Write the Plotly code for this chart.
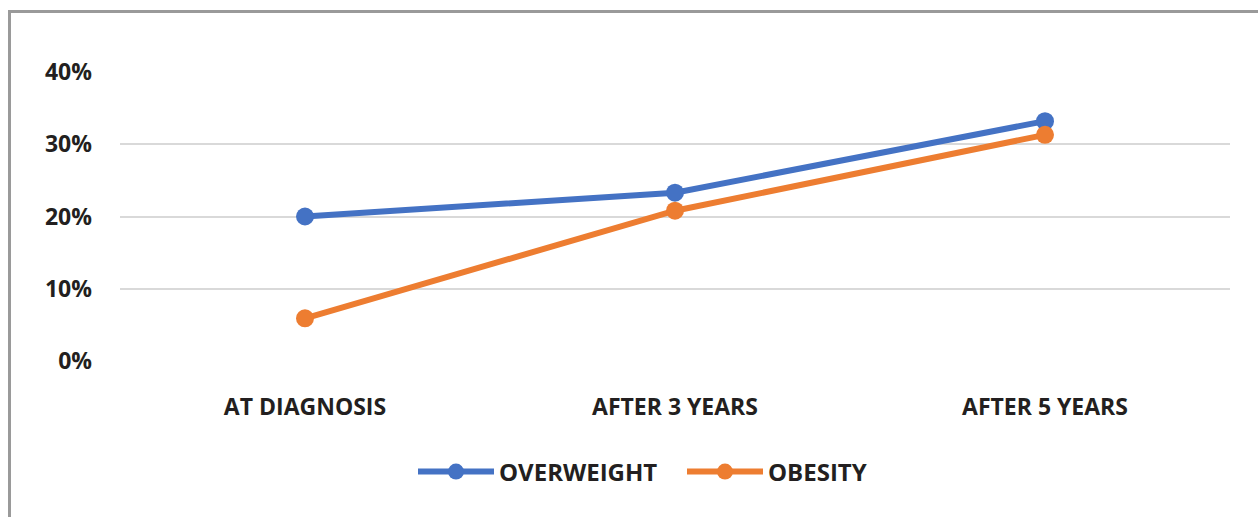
import plotly.graph_objects as go

categories = ["AT DIAGNOSIS", "AFTER 3 YEARS", "AFTER 5 YEARS"]
overweight = [20.0, 23.3, 33.2]
obesity = [5.9, 20.8, 31.3]
y_ticks = [0, 10, 20, 30, 40]
y_tick_labels = ["0%", "10%", "20%", "30%", "40%"]

FONT = "Open Sans"
fig = go.Figure()
fig.add_trace(go.Scatter(x=categories, y=overweight, name="OVERWEIGHT", mode="lines+markers",
                         line=dict(color="#4472C4", width=6),
                         marker=dict(size=18, color="#4472C4")))
fig.add_trace(go.Scatter(x=categories, y=obesity, name="OBESITY", mode="lines+markers",
                         line=dict(color="#ED7D31", width=6),
                         marker=dict(size=18, color="#ED7D31")))

L, T, W, H = 120, 72, 1110, 289
def px(x):
    return (x - L) / W
def py(y):
    return (T + H - y) / H

fig.update_layout(
    width=1258, height=517,
    margin=dict(l=L, r=1258 - L - W, t=T, b=517 - T - H),
    paper_bgcolor="white", plot_bgcolor="white",
    font=dict(family=FONT, color="#231F20", size=19),
    showlegend=True,
    legend=dict(orientation="h", x=px(413), xanchor="left", y=py(472), yanchor="middle",
                font=dict(family=FONT, size=24, color="#231F20", weight="bold"),
                itemwidth=76, entrywidth=178, traceorder="normal"),
    shapes=[
        dict(type="line", xref="paper", yref="paper", x0=px(8), x1=px(1258), y0=py(11.5), y1=py(11.5),
             line=dict(color="#9a9a9a", width=3)),
        dict(type="line", xref="paper", yref="paper", x0=px(9.5), x1=px(9.5), y0=py(10), y1=py(517),
             line=dict(color="#9a9a9a", width=3)),
    ],
)
fig.update_xaxes(type="category", showgrid=False, showline=False, zeroline=False,
                 tickfont=dict(family=FONT, size=23, color="#231F20", weight="bold"),
                 ticks="", ticklabelstandoff=30, range=[-0.5, 2.5])
fig.update_yaxes(range=[0, 40], tickvals=y_ticks, ticktext=y_tick_labels,
                 showgrid=True, gridcolor="#d9d9d9", gridwidth=1.5, zeroline=False, showline=False,
                 tickfont=dict(family=FONT, size=23, color="#231F20", weight="bold"),
                 ticks="", ticklabelstandoff=27)
fig.write_html("out.html")
